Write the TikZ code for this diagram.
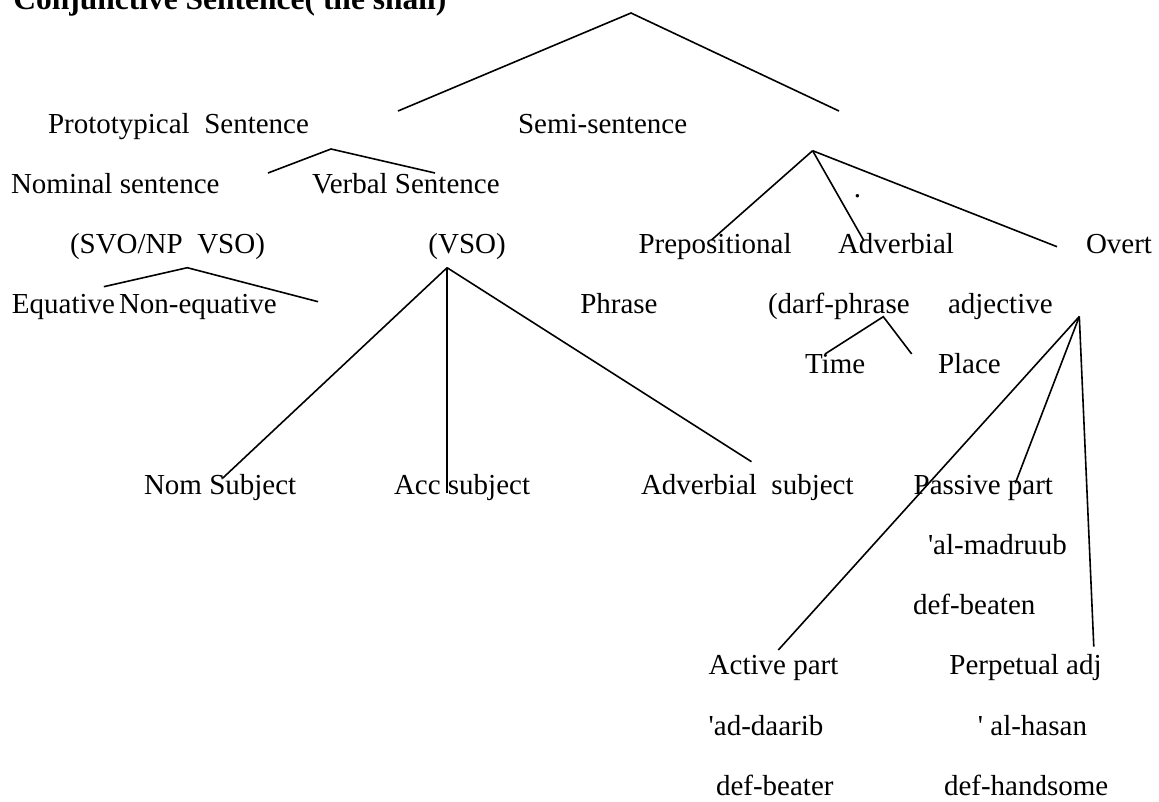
\documentclass[tikz,border=0pt]{standalone}
\usepackage{fontspec}
\setmainfont{Liberation Serif}
\begin{document}
\begin{tikzpicture}[x=1pt,y=-1pt,
  lbl/.style={anchor=base west, inner sep=0pt, outer sep=0pt, font=\fontsize{29}{29}\selectfont},
  ttl/.style={anchor=base west, inner sep=0pt, outer sep=0pt, font=\fontsize{31.5}{31.5}\selectfont\bfseries},
  branch/.style={line width=1.6pt, line join=miter}]
\fill[white] (0,0) rectangle (1159,801);
\useasboundingbox (0,0) rectangle (1159,801);
\clip (0,0) rectangle (1159,801);

% heading (runs past the top edge of the page)
\node[ttl] (title) at (13.3,9.5) {Conjunctive Sentence( the shall)};

% labels, row by row
\node[lbl] (proto) at (48,133) {Prototypical\ \ Sentence};
\node[lbl] (semi) at (518,133) {Semi-sentence};

\node[lbl] (nominal) at (11,193) {Nominal sentence};
\node[lbl] (verbal) at (312,193) {Verbal Sentence};
\node[lbl] (dot) at (853.8,197.5) {.};

\node[lbl] (svo) at (70,253) {(SVO/NP\ \ VSO)};
\node[lbl] (vso) at (428.4,253) {(VSO)};
\node[lbl] (prep) at (638.5,253) {Prepositional};
\node[lbl] (adverbial) at (838,253) {Adverbial};
\node[lbl] (overt) at (1086,253) {Overt};

\node[lbl] (equative) at (12,313) {Equative};
\node[lbl] (nonequ) at (119,313) {Non-equative};
\node[lbl] (phrase) at (580.3,313) {Phrase};
\node[lbl] (darf) at (768,313) {(darf-phrase};
\node[lbl] (adjective) at (948,313) {adjective};

\node[lbl] (time) at (805,373) {Time};
\node[lbl] (place) at (938,373) {Place};

\node[lbl] (nomsubj) at (144,494) {Nom Subject};
\node[lbl] (accsubj) at (394,494) {Acc subject};
\node[lbl] (advsubj) at (641,494) {Adverbial\ \ subject};
\node[lbl] (passive) at (913.7,494) {Passive part};

\node[lbl] (madruub) at (928,554) {\textquotesingle al-madruub};
\node[lbl] (beaten) at (913,614) {def-beaten};

\node[lbl] (active) at (708.7,674.5) {Active part};
\node[lbl] (perpetual) at (949.4,674.5) {Perpetual adj};

\node[lbl] (daarib) at (708.7,735) {\textquotesingle ad-daarib};
\node[lbl] (hasan) at (977.9,735) {\textquotesingle{} al-hasan};

\node[lbl] (beater) at (716,795) {def-beater};
\node[lbl] (handsome) at (944,795) {def-handsome};

% branching points and branch ends
\coordinate (topApex) at (631,13);
\coordinate (topL) at (398,111);
\coordinate (topR) at (839,111);

\coordinate (protoApex) at (331,149);
\coordinate (protoL) at (268,173);
\coordinate (protoR) at (435,173);

\coordinate (semiApex) at (812.6,150.7);
\coordinate (semiPrep) at (711.5,240);
\coordinate (semiAdv) at (863.5,240);
\coordinate (semiOvert) at (1057,246.7);

\coordinate (eqApex) at (187.3,267.7);
\coordinate (eqL) at (103.8,286.7);
\coordinate (eqR) at (318.1,301.7);

\coordinate (vsoApex) at (447.1,267.7);
\coordinate (vsoNom) at (222.5,478.3);
\coordinate (vsoAcc) at (447.1,493.3);
\coordinate (vsoAdv) at (751.5,461.7);

\coordinate (darfApex) at (883.3,316.7);
\coordinate (darfTime) at (825,354);
\coordinate (darfPlace) at (911.7,354);

\coordinate (adjApex) at (1079.3,316.5);
\coordinate (adjActive) at (778.3,650);
\coordinate (adjPassive) at (1015.3,483.3);
\coordinate (adjPerp) at (1093.8,646.7);

% branches
\draw[branch] (topL) -- (topApex) -- (topR);
\draw[branch] (protoL) -- (protoApex) -- (protoR);
\draw[branch] (semiApex) -- (semiPrep);
\draw[branch] (semiApex) -- (semiAdv);
\draw[branch] (semiApex) -- (semiOvert);
\draw[branch] (eqL) -- (eqApex) -- (eqR);
\draw[branch] (vsoApex) -- (vsoNom);
\draw[branch] (vsoApex) -- (vsoAcc);
\draw[branch] (vsoApex) -- (vsoAdv);
\draw[branch] (darfTime) -- (darfApex) -- (darfPlace);
\draw[branch] (adjApex) -- (adjActive);
\draw[branch] (adjApex) -- (adjPassive);
\draw[branch] (adjApex) -- (adjPerp);
\end{tikzpicture}
\end{document}
